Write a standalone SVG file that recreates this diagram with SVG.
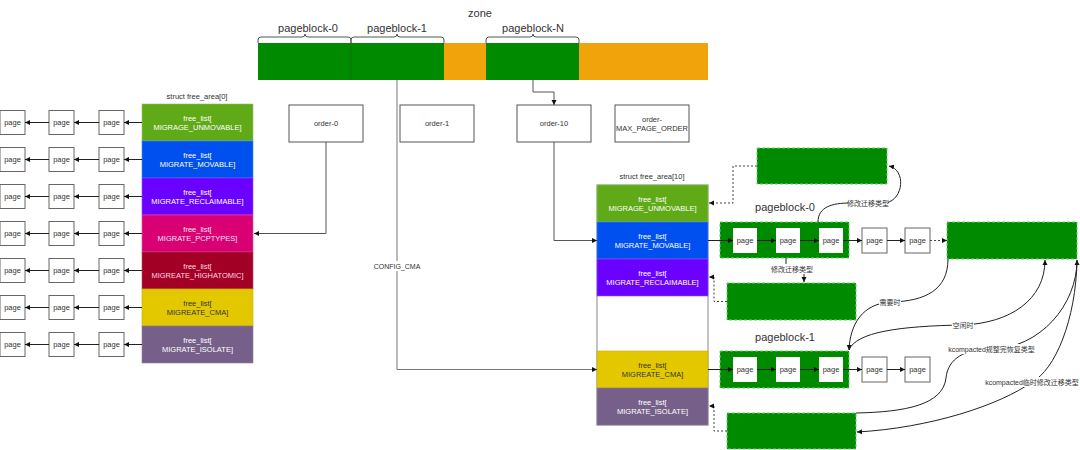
<svg xmlns="http://www.w3.org/2000/svg" width="1080" height="450" viewBox="0 0 1080 450">
<style>
text{font-family:"Liberation Sans",Arial,"Noto Sans CJK SC",sans-serif;fill:#333;text-anchor:middle;dominant-baseline:central}
.s{font-size:7.5px}
.m{font-size:11px}
.cj{font-size:7px}
.w{fill:#fff}
.pg{fill:#fff;stroke:#666;stroke-width:1}
.pgi{fill:#fff;stroke:none}
.ord{fill:#fff;stroke:#555;stroke-width:1}
.ln{fill:none;stroke:#555;stroke-width:1}
.lna{fill:none;stroke:#222;stroke-width:1;marker-end:url(#ah)}
.dot{fill:none;stroke:#444;stroke-width:1;stroke-dasharray:2 2;marker-end:url(#ah)}
.gb{fill:#008a00;stroke:#66d066;stroke-width:1;stroke-dasharray:3 2}
.lb{fill:#fff}
</style>
<defs>
<marker id="ah" markerWidth="6" markerHeight="6" refX="5" refY="3" orient="auto" markerUnits="userSpaceOnUse">
<path d="M0,0.5 L5,3 L0,5.5 z" fill="#111"/>
</marker>
</defs>
<rect width="1080" height="450" fill="#fff"/>

<g id="zone">
<text class="m" x="480" y="13">zone</text>
<rect x="258" y="43" width="186" height="37" fill="#008a00"/>
<line x1="351" y1="43" x2="351" y2="80" stroke="#1a6b1a" stroke-width="0.8"/>
<rect x="444" y="43" width="42" height="37" fill="#f0a30a"/>
<rect x="486" y="43" width="93" height="37" fill="#008a00"/>
<rect x="579" y="43" width="129" height="37" fill="#f0a30a"/>
<path class="ln" d="M258 43 V40 Q258 37 261 37 H302 Q305 37 305 34 Q305 37 308 37 H348 Q351 37 351 40 V43"/>
<path class="ln" d="M351 43 V40 Q351 37 354 37 H394 Q397 37 397 34 Q397 37 400 37 H441 Q444 37 444 40 V43"/>
<path class="ln" d="M486 43 V40 Q486 37 489 37 H530 Q533 37 533 34 Q533 37 536 37 H576 Q579 37 579 40 V43"/>
<text class="m" x="308" y="28">pageblock-0</text>
<text class="m" x="397" y="28">pageblock-1</text>
<text class="m" x="533" y="28">pageblock-N</text>
</g>

<g id="orders">
<rect class="ord" x="289" y="105" width="74" height="37"/>
<text class="s" x="326" y="123.5">order-0</text>
<rect class="ord" x="400" y="105" width="74" height="37"/>
<text class="s" x="437" y="123.5">order-1</text>
<rect class="ord" x="517" y="105" width="74" height="37"/>
<text class="s" x="554" y="123.5">order-10</text>
<rect class="ord" x="615" y="105" width="74" height="37"/>
<text class="s" x="652" y="119">order-</text>
<text class="s" x="652" y="128">MAX_PAGE_ORDER</text>
</g>

<g id="free_area0">
<text class="s" x="197" y="96">struct free_area[0]</text>
<rect x="142" y="104" width="111" height="37" fill="#60a917" stroke="#8cc860" stroke-width="0.6"/>
<text class="s w" x="197.5" y="118.5">free_list[</text><text class="s w" x="197.5" y="127.5">MIGRAGE_UNMOVABLE]</text>
<rect x="142" y="141" width="111" height="37" fill="#0050ef" stroke="#4a80ff" stroke-width="0.6"/>
<text class="s w" x="197.5" y="155.5">free_list[</text><text class="s w" x="197.5" y="164.5">MIGRATE_MOVABLE]</text>
<rect x="142" y="178" width="111" height="37" fill="#6a00ff" stroke="#8f4dff" stroke-width="0.6"/>
<text class="s w" x="197.5" y="192.5">free_list[</text><text class="s w" x="197.5" y="201.5">MIGRATE_RECLAIMABLE]</text>
<rect x="142" y="215" width="111" height="37" fill="#d80073" stroke="#e64d9a" stroke-width="0.6"/>
<text class="s" x="197.5" y="229.5" style="fill:#ffe0ee">free_list[</text><text class="s" x="197.5" y="238.5" style="fill:#ffe0ee">MIGRATE_PCPTYPES]</text>
<rect x="142" y="252" width="111" height="37" fill="#a20025" stroke="#c04060" stroke-width="0.6"/>
<text class="s" x="197.5" y="266.5" style="fill:#ffd6e4">free_list[</text><text class="s" x="197.5" y="275.5" style="fill:#ffd6e4">MIGREATE_HIGHATOMIC]</text>
<rect x="142" y="289" width="111" height="37" fill="#e3c800" stroke="#c8b000" stroke-width="0.6"/>
<text class="s" x="197.5" y="303.5">free_list[</text><text class="s" x="197.5" y="312.5">MIGREATE_CMA]</text>
<rect x="142" y="326" width="111" height="37" fill="#76608a" stroke="#8f7ca0" stroke-width="0.6"/>
<text class="s w" x="197.5" y="340.5">free_list[</text><text class="s w" x="197.5" y="349.5">MIGRATE_ISOLATE]</text>
</g>

<g id="left_pages">
<rect class="pg" x="0" y="110.5" width="25" height="24"/><text class="s" x="12.5" y="122.5">page</text>
<rect class="pg" x="49" y="110.5" width="25" height="24"/><text class="s" x="61.5" y="122.5">page</text>
<rect class="pg" x="99" y="110.5" width="25" height="24"/><text class="s" x="111.5" y="122.5">page</text>
<rect class="pg" x="0" y="147.5" width="25" height="24"/><text class="s" x="12.5" y="159.5">page</text>
<rect class="pg" x="49" y="147.5" width="25" height="24"/><text class="s" x="61.5" y="159.5">page</text>
<rect class="pg" x="99" y="147.5" width="25" height="24"/><text class="s" x="111.5" y="159.5">page</text>
<rect class="pg" x="0" y="184.5" width="25" height="24"/><text class="s" x="12.5" y="196.5">page</text>
<rect class="pg" x="49" y="184.5" width="25" height="24"/><text class="s" x="61.5" y="196.5">page</text>
<rect class="pg" x="99" y="184.5" width="25" height="24"/><text class="s" x="111.5" y="196.5">page</text>
<rect class="pg" x="0" y="221.5" width="25" height="24"/><text class="s" x="12.5" y="233.5">page</text>
<rect class="pg" x="49" y="221.5" width="25" height="24"/><text class="s" x="61.5" y="233.5">page</text>
<rect class="pg" x="99" y="221.5" width="25" height="24"/><text class="s" x="111.5" y="233.5">page</text>
<rect class="pg" x="0" y="258.5" width="25" height="24"/><text class="s" x="12.5" y="270.5">page</text>
<rect class="pg" x="49" y="258.5" width="25" height="24"/><text class="s" x="61.5" y="270.5">page</text>
<rect class="pg" x="99" y="258.5" width="25" height="24"/><text class="s" x="111.5" y="270.5">page</text>
<rect class="pg" x="0" y="295.5" width="25" height="24"/><text class="s" x="12.5" y="307.5">page</text>
<rect class="pg" x="49" y="295.5" width="25" height="24"/><text class="s" x="61.5" y="307.5">page</text>
<rect class="pg" x="99" y="295.5" width="25" height="24"/><text class="s" x="111.5" y="307.5">page</text>
<rect class="pg" x="0" y="332.5" width="25" height="24"/><text class="s" x="12.5" y="344.5">page</text>
<rect class="pg" x="49" y="332.5" width="25" height="24"/><text class="s" x="61.5" y="344.5">page</text>
<rect class="pg" x="99" y="332.5" width="25" height="24"/><text class="s" x="111.5" y="344.5">page</text>
</g>

<g id="free_area10">
<text class="s" x="652" y="176">struct free_area[10]</text>
<rect x="597" y="185" width="111" height="240" fill="#fff" stroke="#888" stroke-width="1"/>
<rect x="597" y="185" width="111" height="37" fill="#60a917" stroke="#8cc860" stroke-width="0.6"/>
<text class="s w" x="652.5" y="199.5">free_list[</text><text class="s w" x="652.5" y="208.5">MIGRAGE_UNMOVABLE]</text>
<rect x="597" y="222" width="111" height="37" fill="#0050ef" stroke="#4a80ff" stroke-width="0.6"/>
<text class="s w" x="652.5" y="236.5">free_list[</text><text class="s w" x="652.5" y="245.5">MIGRATE_MOVABLE]</text>
<rect x="597" y="259" width="111" height="37" fill="#6a00ff" stroke="#8f4dff" stroke-width="0.6"/>
<text class="s w" x="652.5" y="273.5">free_list[</text><text class="s w" x="652.5" y="282.5">MIGRATE_RECLAIMABLE]</text>
<rect x="597" y="351" width="111" height="37" fill="#e3c800" stroke="#c8b000" stroke-width="0.6"/>
<text class="s" x="652.5" y="365.5">free_list[</text><text class="s" x="652.5" y="374.5">MIGREATE_CMA]</text>
<rect x="597" y="388" width="111" height="37" fill="#76608a" stroke="#8f7ca0" stroke-width="0.6"/>
<text class="s w" x="652.5" y="402.5">free_list[</text><text class="s w" x="652.5" y="411.5">MIGRATE_ISOLATE]</text>
</g>

<g id="box_unmovable"><rect class="gb" x="757" y="148" width="130" height="36"/></g>
<g id="box_reclaimable"><rect class="gb" x="727" y="283" width="129" height="37"/></g>
<g id="box_isolate"><rect class="gb" x="727" y="413" width="129" height="36"/></g>
<g id="box_big"><rect class="gb" x="947" y="222" width="130" height="37"/></g>

<g id="pageblock0">
<text class="m" x="785" y="207">pageblock-0</text>
<rect class="gb" x="720" y="222" width="129" height="36"/>
<rect class="pgi" x="733" y="228" width="24" height="25"/><text class="s" x="745" y="240.5">page</text>
<rect class="pgi" x="776" y="228" width="24" height="25"/><text class="s" x="788" y="240.5">page</text>
<rect class="pgi" x="819" y="228" width="24" height="25"/><text class="s" x="831" y="240.5">page</text>
</g>
<g id="pb0_pages">
<rect class="pg" x="862" y="228" width="25" height="25"/><text class="s" x="874.5" y="240.5">page</text>
<rect class="pg" x="905" y="228" width="25" height="25"/><text class="s" x="917.5" y="240.5">page</text>
</g>

<g id="pageblock1">
<text class="m" x="785" y="337">pageblock-1</text>
<rect class="gb" x="720" y="351" width="129" height="37"/>
<rect class="pgi" x="733" y="357" width="24" height="25"/><text class="s" x="745" y="369.5">page</text>
<rect class="pgi" x="776" y="357" width="24" height="25"/><text class="s" x="788" y="369.5">page</text>
<rect class="pgi" x="819" y="357" width="24" height="25"/><text class="s" x="831" y="369.5">page</text>
</g>
<g id="pb1_pages">
<rect class="pg" x="862" y="357" width="25" height="25"/><text class="s" x="874.5" y="369.5">page</text>
<rect class="pg" x="905" y="357" width="25" height="25"/><text class="s" x="917.5" y="369.5">page</text>
</g>

<g id="connectors">
<!-- left page chains -->
<path class="lna" d="M142 122.5 H124"/><path class="lna" d="M99 122.5 H74"/><path class="lna" d="M49 122.5 H25"/>
<path class="lna" d="M142 159.5 H124"/><path class="lna" d="M99 159.5 H74"/><path class="lna" d="M49 159.5 H25"/>
<path class="lna" d="M142 196.5 H124"/><path class="lna" d="M99 196.5 H74"/><path class="lna" d="M49 196.5 H25"/>
<path class="lna" d="M142 233.5 H124"/><path class="lna" d="M99 233.5 H74"/><path class="lna" d="M49 233.5 H25"/>
<path class="lna" d="M142 270.5 H124"/><path class="lna" d="M99 270.5 H74"/><path class="lna" d="M49 270.5 H25"/>
<path class="lna" d="M142 307.5 H124"/><path class="lna" d="M99 307.5 H74"/><path class="lna" d="M49 307.5 H25"/>
<path class="lna" d="M142 344.5 H124"/><path class="lna" d="M99 344.5 H74"/><path class="lna" d="M49 344.5 H25"/>
<!-- order connectors -->
<path class="lna" style="stroke:#555" d="M326 142 V233.5 H254"/>
<path class="lna" style="stroke:#555" d="M554 142 V240.5 H597"/>
<path class="lna" style="stroke:#555" d="M533 80 V92 H554 V105"/>
<path class="lna" style="stroke:#777" d="M397 80 V369.5 H597"/>
<rect x="374" y="261" width="46" height="10" fill="#fff"/>
<text class="s" x="397" y="266" style="font-size:7px">CONFIG_CMA</text>
<!-- pageblock-0 chain -->
<path class="lna" d="M708 240.5 H733"/><path class="lna" d="M757 240.5 H776"/><path class="lna" d="M800 240.5 H819"/>
<path class="lna" d="M843 240.5 H862"/><path class="lna" d="M887 240.5 H905"/>
<path class="dot" d="M930 240.5 H947"/>
<!-- pageblock-1 chain -->
<path class="lna" d="M708 369.5 H733"/><path class="lna" d="M757 369.5 H776"/><path class="lna" d="M800 369.5 H819"/>
<path class="lna" d="M843 369.5 H862"/><path class="lna" d="M887 369.5 H905"/>
<!-- dotted returns -->
<path class="dot" d="M757 166 H733 V203 H709"/>
<path class="dot" d="M727 301.5 H714 V277 H709"/>
<path class="dot" d="M727 431 H714 V406 H709"/>
<!-- change type curves -->
<path class="lna" d="M818 222 C818 207 832 203 850 203 L886 203 C904 199 906 170 889 166"/>
<rect x="848" y="198" width="40" height="10" fill="#fff"/>
<text class="cj" x="868" y="203">修改迁移类型</text>
<path class="lna" d="M786 258 V269 H804 V282"/>
<rect x="771" y="264" width="41" height="10" fill="#fff"/>
<text class="cj" x="792" y="269">修改迁移类型</text>
<!-- 需要时 -->
<path class="lna" d="M948 259 C948 290 925 301 892 302 C862 303 850 325 849 350"/>
<rect x="879" y="297" width="22" height="10" fill="#fff"/>
<text class="cj" x="890" y="302">需要时</text>
<!-- 空闲时 -->
<path class="lna" d="M849 350 C856 332 900 326 963 325 C1010 323 1045 300 1045 260"/>
<rect x="952" y="320" width="22" height="10" fill="#fff"/>
<text class="cj" x="963" y="325">空闲时</text>
<!-- kcompacted规整完恢复类型 -->
<path class="lna" d="M856 413 C905 412 943 405 946 378 C948 358 965 349 992 349 C1040 348 1077 305 1077 260"/>
<rect x="949" y="344" width="85" height="10" fill="#fff"/>
<text class="cj" x="991.5" y="349">kcompacted规整完恢复类型</text>
<!-- kcompacted临时修改迁移类型 -->
<path class="lna" d="M1077 260 C1076 320 1055 370 1032 382 C1000 405 930 428 857 432"/>
<rect x="986" y="377" width="92" height="10" fill="#fff"/>
<text class="cj" x="1032" y="382">kcompacted临时修改迁移类型</text>
</g>
</svg>
